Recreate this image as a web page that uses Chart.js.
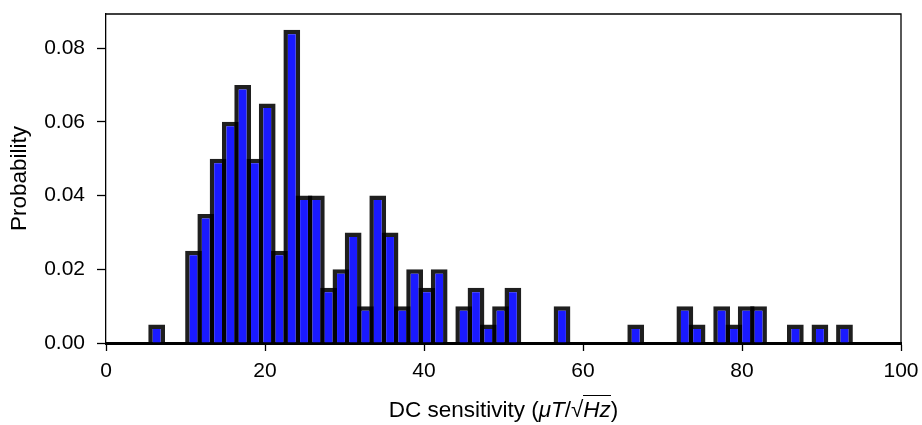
<!DOCTYPE html>
<html>
<head>
<meta charset="utf-8">
<script src="https://cdn.jsdelivr.net/npm/chart.js@4"></script>
<style>
  body { margin: 0; background: #fff; }
  #wrap { position: relative; width: 922px; height: 425px; }
  #xTitle {
    position: absolute; left: 106px; width: 795px; top: 398px;
    text-align: center; color: #000;
    font: 22.5px 'Liberation Sans', Arial, sans-serif; line-height: 24px;
  }
  #xTitle .rad { border-top: 1.3px solid #000; padding-top: 1px; }
</style>
</head>
<body>
<div id="wrap">
  <canvas id="myChart"></canvas>
  <div id="xTitle">DC sensitivity (<i>μT</i>/√<span class="rad"><i>Hz</i></span>)</div>
</div>
<script>
// histogram bin centres (DC sensitivity, µT/√Hz)
const binCenters = [
  6.37, 7.92, 9.46, 11.01, 12.55, 14.10, 15.64, 17.19, 18.73, 20.28,
  21.82, 23.37, 24.91, 26.46, 28.00, 29.55, 31.09, 32.64, 34.18, 35.73,
  37.27, 38.82, 40.36, 41.91, 43.45, 45.00, 46.54, 48.09, 49.63, 51.18,
  52.72, 54.27, 55.81, 57.36, 58.90, 60.45, 61.99, 63.54, 65.08, 66.63,
  68.17, 69.72, 71.26, 72.81, 74.35, 75.90, 77.44, 78.99, 80.53, 82.08,
  83.62, 85.17, 86.71, 88.26, 89.80, 91.35, 92.89
];
// probability per bin
const probability = [
  0.005, 0, 0, 0.025, 0.035, 0.05, 0.06, 0.07, 0.05, 0.065,
  0.025, 0.085, 0.04, 0.04, 0.015, 0.02, 0.03, 0.01, 0.04, 0.03,
  0.01, 0.02, 0.015, 0.02, 0, 0.01, 0.015, 0.005, 0.01, 0.015,
  0, 0, 0, 0.01, 0, 0, 0, 0, 0, 0.005,
  0, 0, 0, 0.01, 0.005, 0, 0.01, 0.005, 0.01, 0.01,
  0, 0, 0.005, 0, 0.005, 0, 0.005
];
const xTicks = [0, 20, 40, 60, 80, 100];
const yTicks = [0, 0.02, 0.04, 0.06, 0.08];

Chart.defaults.font.family = "'Liberation Sans', Arial, sans-serif";
Chart.defaults.color = '#000';

// top and right spines
const frame = {
  id: 'frame',
  afterDraw(chart) {
    const { ctx, chartArea: a } = chart;
    ctx.save();
    ctx.strokeStyle = '#000';
    ctx.lineWidth = 1.3;
    ctx.beginPath();
    ctx.moveTo(a.left, a.top);
    ctx.lineTo(a.right, a.top);
    ctx.lineTo(a.right, a.bottom);
    ctx.stroke();
    ctx.restore();
  }
};

const ctx = document.getElementById('myChart').getContext('2d');
new Chart(ctx, {
  type: 'bar',
  data: {
    datasets: [{
      data: binCenters.map((x, i) => ({ x: x, y: probability[i] })),
      backgroundColor: '#1a1aff',
      borderColor: 'rgba(0,0,0,0.88)',
      borderWidth: 4.5,
      categoryPercentage: 1,
      barPercentage: 1.37
    }]
  },
  options: {
    responsive: true,
    maintainAspectRatio: false,
    animation: false,
    layout: { padding: { left: 0, right: 21, top: 14, bottom: 0 } },
    plugins: { legend: { display: false }, tooltip: { enabled: false } },
    scales: {
      x: {
        type: 'linear',
        min: 0, max: 100,
        offset: false,
        afterFit: s => { s.height = 82; s.paddingLeft = 0; s.paddingRight = 0; },
        afterBuildTicks: s => { s.ticks = xTicks.map(v => ({ value: v })); },
        grid: { offset: false, drawOnChartArea: false, tickLength: 8, tickWidth: 1.3, tickColor: '#000' },
        border: { color: '#000', width: 3 },
        ticks: { font: { size: 21 }, padding: 8, maxRotation: 0 }
      },
      y: {
        min: 0, max: 0.08925,
        afterFit: s => { s.width = 106; s.paddingTop = 0; s.paddingBottom = 0; },
        afterBuildTicks: s => { s.ticks = yTicks.map(v => ({ value: v })); },
        grid: { drawOnChartArea: false, tickLength: 9, tickWidth: 1.3, tickColor: '#000' },
        border: { color: '#000', width: 1.3 },
        ticks: { font: { size: 21 }, padding: 12, callback: v => v.toFixed(2) },
        title: { display: true, text: 'Probability', font: { size: 22.5 }, padding: { top: 6, bottom: 0 } }
      }
    }
  },
  plugins: [frame]
});
</script>
</body>
</html>
